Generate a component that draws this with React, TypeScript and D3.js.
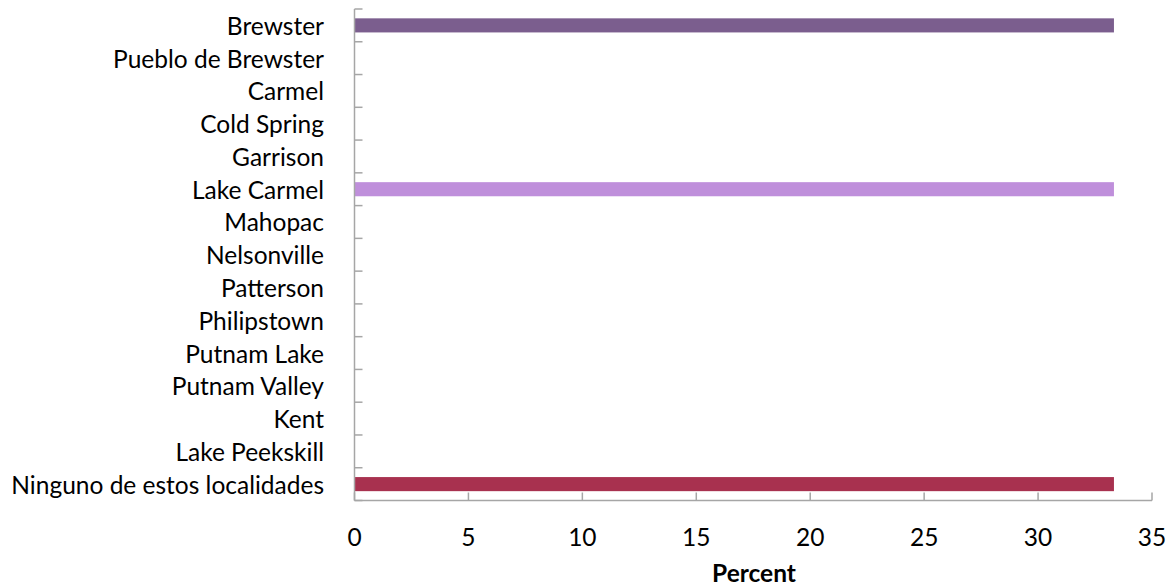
import React from "react";
import * as d3 from "d3";

const categories = [
  "Brewster",
  "Pueblo de Brewster",
  "Carmel",
  "Cold Spring",
  "Garrison",
  "Lake Carmel",
  "Mahopac",
  "Nelsonville",
  "Patterson",
  "Philipstown",
  "Putnam Lake",
  "Putnam Valley",
  "Kent",
  "Lake Peekskill",
  "Ninguno de estos localidades",
];
const values = [33.33, 0, 0, 0, 0, 33.33, 0, 0, 0, 0, 0, 0, 0, 0, 33.33];
const barColors = [
  "#7B5E8E", "#7B5E8E", "#7B5E8E", "#7B5E8E", "#7B5E8E",
  "#BF8FDB", "#BF8FDB", "#BF8FDB", "#BF8FDB", "#BF8FDB",
  "#BF8FDB", "#BF8FDB", "#BF8FDB", "#BF8FDB", "#A8314F",
];
const xTicks = [0, 5, 10, 15, 20, 25, 30, 35];
const xTitle = "Percent";

const W = 1170;
const H = 588;
const FONT = "Lato, 'Open Sans', sans-serif";
const FS = 24.5;

export default function App() {
  const x = d3.scaleLinear().domain([0, 35]).range([354.5, 1152]);
  const y = d3
    .scaleBand<string>()
    .domain(categories)
    .range([9, 500.5])
    .paddingInner(0.57)
    .paddingOuter(0.285);
  const step = y.step();
  const boundaries = d3.range(categories.length + 1).map((i) => 9 + i * step);
  const axisColor = "#A6A6A6";
  const y0 = 500.5;
  const x0 = x(0);

  return (
    <svg
      width={W}
      height={H}
      style={{ position: "absolute", left: 0, top: 0, display: "block" }}
      fontFamily={FONT}
    >
      <rect width={W} height={H} fill="#fff" />
      {categories.map((c, i) =>
        values[i] > 0 ? (
          <rect
            key={c}
            x={x0}
            y={y(c)!}
            width={x(values[i]) - x0}
            height={y.bandwidth()}
            fill={barColors[i]}
          />
        ) : null
      )}
      {/* y axis */}
      <line x1={x0} x2={x0} y1={boundaries[0]} y2={y0} stroke={axisColor} strokeWidth={1.5} />
      {boundaries.map((b, i) => (
        <line key={i} x1={x0} x2={x0 + 8} y1={b} y2={b} stroke={axisColor} strokeWidth={1.5} />
      ))}
      {/* x axis */}
      <line x1={x0} x2={x(35)} y1={y0} y2={y0} stroke={axisColor} strokeWidth={1.5} />
      {xTicks.map((t) => (
        <line key={t} x1={x(t)} x2={x(t)} y1={y0} y2={y0 - 8} stroke={axisColor} strokeWidth={1.5} />
      ))}
      {categories.map((c) => (
        <text
          key={c}
          x={324}
          y={y(c)! + y.bandwidth() / 2}
          textAnchor="end"
          dominantBaseline="central"
          fontSize={FS}
          fill="#000"
        >
          {c}
        </text>
      ))}
      {xTicks.map((t) => (
        <text
          key={t}
          x={x(t)}
          y={536}
          textAnchor="middle"
          dominantBaseline="central"
          fontSize={FS}
          fill="#000"
        >
          {t}
        </text>
      ))}
      <text
        x={754}
        y={572}
        textAnchor="middle"
        dominantBaseline="central"
        fontSize={FS}
        fontWeight="bold"
        fill="#000"
      >
        {xTitle}
      </text>
    </svg>
  );
}
